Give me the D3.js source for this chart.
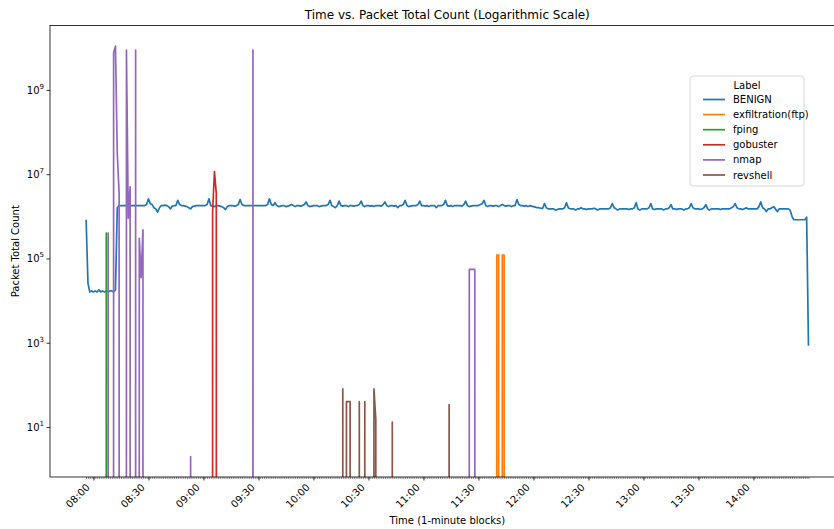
<html>
   <head>
      <title>Time vs. Packet Total Count</title>
      <script src="https://d3js.org/d3.v7.min.js" charset="utf-8"></script>
      <style>
         body {
            margin: 0;
            background: white;
            font-family: "DejaVu Sans", sans-serif;
         }
         text {
            fill: #000;
         }
      </style>
   </head>
   <body>
      <script>
         var width = 834;
         var height = 529;

         // BENIGN: one value per minute starting 07:56, in millions of packets
         var benignStart = "07:56";
         var benignM = [
            0.83, 0.026, 0.016, 0.017,
            // 08:00
            0.016, 0.017, 0.016, 0.018, 0.016, 0.017, 0.016, 0.017, 0.016, 0.017,
            0.017, 0.016, 0.018, 1.6, 1.8, 1.8, 1.8, 1.8, 1.8, 1.78,
            1.8, 1.8, 1.8, 1.8, 1.8, 1.8, 1.8, 1.8, 1.8, 1.9,
            2.6, 2.0, 1.9, 1.6, 1.5, 1.25, 1.6, 1.8, 1.8, 1.85,
            1.8, 1.7, 1.5, 1.75, 1.8, 1.8, 2.4, 1.9, 1.8, 1.8,
            1.75, 1.7, 1.6, 1.5, 1.7, 1.75, 1.8, 1.8, 1.8, 1.8,
            // 09:00
            1.8, 1.8, 1.9, 2.6, 1.8, 1.75, 1.7, 1.8, 1.8, 1.75,
            1.7, 1.6, 1.45, 1.7, 1.8, 1.8, 1.8, 1.75, 1.8, 1.9,
            2.5, 1.9, 1.8, 1.8, 1.8, 1.8, 1.8, 1.8, 1.8, 1.8,
            1.8, 1.8, 1.8, 1.8, 1.8, 1.9, 2.6, 1.9, 1.8, 2.1,
            1.8, 1.7, 1.75, 1.8, 1.8, 1.7, 1.75, 1.8, 1.9, 1.8,
            1.7, 1.8, 1.8, 1.75, 1.8, 1.9, 2.2, 1.8, 1.7, 1.75,
            // 10:00
            1.8, 1.8, 1.8, 1.7, 1.75, 1.8, 1.8, 1.8, 1.9, 2.4,
            1.8, 1.7, 1.6, 1.8, 2.3, 1.8, 1.75, 1.8, 1.8, 1.7,
            1.8, 1.8, 1.75, 1.8, 1.8, 1.9, 2.3, 1.8, 1.7, 1.8,
            1.8, 1.75, 1.8, 1.7, 1.8, 1.8, 1.8, 1.75, 1.9, 2.2,
            1.8, 1.7, 1.8, 1.8, 1.75, 1.8, 1.6, 1.8, 1.8, 1.9,
            2.4, 1.8, 1.7, 1.75, 1.8, 1.8, 1.8, 1.9, 2.3, 1.8,
            // 11:00
            1.8, 1.75, 1.8, 1.7, 1.8, 1.8, 1.8, 1.6, 1.8, 1.8,
            1.8, 1.9, 2.4, 1.8, 1.75, 1.8, 1.7, 1.8, 1.8, 1.8,
            1.8, 1.75, 1.9, 2.3, 1.8, 1.7, 1.75, 1.8, 1.8, 1.8,
            1.8, 1.9, 2.0, 2.4, 1.8, 1.7, 1.8, 1.8, 1.75, 1.8,
            1.8, 1.7, 1.8, 1.9, 1.8, 1.75, 1.8, 1.8, 1.7, 1.8,
            1.8, 2.5, 1.9, 1.8, 1.8, 1.75, 1.8, 1.7, 1.8, 1.75,
            // 12:00
            1.7, 1.65, 1.6, 1.6, 1.55, 1.55, 2.0, 1.6, 1.5, 1.5,
            1.5, 1.5, 1.4, 1.45, 1.5, 1.5, 1.5, 1.6, 2.1, 1.6,
            1.5, 1.5, 1.5, 1.4, 1.5, 1.5, 1.6, 1.5, 1.5, 1.45,
            1.5, 1.5, 1.5, 1.55, 1.5, 1.4, 1.5, 1.5, 1.5, 1.5,
            1.5, 1.5, 1.6, 2.0, 1.6, 1.5, 1.4, 1.5, 1.5, 1.5,
            1.5, 1.5, 1.45, 1.5, 1.5, 1.6, 2.1, 1.5, 1.4, 1.5,
            // 13:00
            1.5, 1.5, 1.5, 1.6, 2.0, 1.5, 1.45, 1.5, 1.5, 1.5,
            1.5, 1.4, 1.5, 1.5, 1.6, 1.9, 1.5, 1.5, 1.45, 1.5,
            1.5, 1.5, 1.4, 1.5, 1.5, 1.6, 2.0, 1.6, 1.5, 1.5,
            1.5, 1.45, 1.5, 1.6, 1.9, 1.5, 1.4, 1.5, 1.5, 1.5,
            1.5, 1.5, 1.45, 1.5, 1.5, 1.5, 1.5, 1.5, 1.6, 1.7,
            2.0, 1.6, 1.5, 1.5, 1.45, 1.5, 1.6, 1.5, 1.5, 1.5,
            // 14:00
            1.5, 1.5, 1.5, 1.7, 2.2, 1.6, 1.5, 1.3, 1.5, 1.5,
            1.6, 1.7, 1.5, 1.3, 1.5, 1.5, 1.5, 1.5, 1.5, 1.5,
            1.4, 1.0, 0.83, 0.83, 0.83, 0.83, 0.83, 0.83, 0.83, 0.95,
            0.00085
         ];

         // attack labels: minutes with traffic, every other minute is 0
         var exfilPts = [["11:40", 1.2e5], ["11:41", 1.2e5], ["11:43", 1.2e5], ["11:44", 1.2e5]];
         var fpingPts = [["08:07", 4e5]];
         var gobusterPts = [["09:05", 1.3e6], ["09:06", 1.15e7], ["09:07", 3.5e6]];
         var nmapPts = [["08:08", 4e5], ["08:11", 7.6e9], ["08:12", 1.1e10], ["08:13", 3e7], ["08:14", 3.5e6],
            ["08:18", 8.8e9], ["08:19", 9e5], ["08:20", 5e6], ["08:23", 8.8e9],
            ["08:25", 3e5], ["08:26", 3.5e4], ["08:27", 4.8e5], ["08:53", 2], ["09:27", 8.8e9],
            ["11:25", 5.5e4], ["11:26", 5.5e4], ["11:27", 5.5e4], ["11:28", 5.5e4]];
         var revshellPts = [["10:16", 80], ["10:18", 40], ["10:19", 40], ["10:20", 40], ["10:25", 40],
            ["10:28", 40], ["10:33", 80], ["10:34", 15], ["10:43", 13], ["11:14", 34]];

         var labels = ["BENIGN", "exfiltration(ftp)", "fping", "gobuster", "nmap", "revshell"];
         var colors = ["#1f77b4", "#ff7f0e", "#2ca02c", "#d62728", "#9467bd", "#8c564b"];
         var xTickLabels = ["08:00", "08:30", "09:00", "09:30", "10:00", "10:30", "11:00",
            "11:30", "12:00", "12:30", "13:00", "13:30", "14:00"];
         var yTickExps = [1, 3, 5, 7, 9];

         function toMin(s) {
            var p = s.split(":");
            return +p[0] * 60 + +p[1];
         }

         var t0 = toMin(benignStart);
         var minutes = benignM.map(function(d, i) { return t0 + i; });
         var t1 = minutes[minutes.length - 1];

         var benign = benignM.map(function(d, i) { return {t: minutes[i], v: d * 1e6}; });
         function fillSeries(pts) {
            var m = {};
            pts.forEach(function(p) { m[toMin(p[0])] = p[1]; });
            return minutes.map(function(t) { return {t: t, v: m[t] || 0}; });
         }
         var series = [benign, fillSeries(exfilPts), fillSeries(fpingPts),
            fillSeries(gobusterPts), fillSeries(nmapPts), fillSeries(revshellPts)];

         var pLeft = 50, pRight = 844.6, pTop = 25.5, pBottom = 477;

         var xPad = (t1 - t0) * 0.05;
         var x = d3.scaleLinear().domain([t0 - xPad, t1 + xPad]).range([pLeft, pRight]);

         var allPos = [];
         series.forEach(function(s) { s.forEach(function(d) { if (d.v > 0) allPos.push(d.v); }); });
         var lo = Math.log10(d3.min(allPos)), hi = Math.log10(d3.max(allPos));
         var yPad = (hi - lo) * 0.05;
         var y = d3.scaleLog().domain([Math.pow(10, lo - yPad), Math.pow(10, hi + yPad)]).range([pBottom, pTop]);

         var svg = d3.select("body")
            .append("svg")
            .attr("width", width)
            .attr("height", height);

         svg.append("clipPath").attr("id", "plot")
            .append("rect")
            .attr("x", pLeft).attr("y", pTop)
            .attr("width", pRight - pLeft).attr("height", pBottom - pTop);

         // zero counts fall off the bottom of the log axis
         var line = d3.line()
            .x(function(d) { return x(d.t); })
            .y(function(d) { return d.v > 0 ? y(d.v) : pBottom + 20000; });

         var g = svg.append("g").attr("clip-path", "url(#plot)");
         g.selectAll("path")
            .data(series)
            .enter()
            .append("path")
            .attr("fill", "none")
            .attr("stroke", function(d, i) { return colors[i]; })
            .attr("stroke-width", 1.7)
            .attr("stroke-linejoin", "round")
            .attr("d", line);

         // x ticks: one per minute, labelled every 30 minutes
         var xMajor = xTickLabels.map(toMin);
         svg.append("g")
            .attr("transform", "translate(0," + pBottom + ")")
            .call(d3.axisBottom(x).tickValues(minutes).tickSize(2).tickFormat(""))
            .call(function(a) {
               a.select(".domain").remove();
               a.selectAll("line").attr("stroke", "#444").attr("stroke-width", 0.6);
            });
         svg.append("g")
            .attr("transform", "translate(0," + pBottom + ")")
            .call(d3.axisBottom(x).tickValues(xMajor).tickSize(3.5).tickFormat(""))
            .call(function(a) {
               a.select(".domain").remove();
               a.selectAll("line").attr("stroke", "#000").attr("stroke-width", 0.8);
            });
         svg.append("g")
            .selectAll("text")
            .data(xTickLabels)
            .enter()
            .append("text")
            .attr("transform", function(d) {
               return "translate(" + (x(toMin(d)) - 3) + "," + (pBottom + 11) + ") rotate(-45)";
            })
            .attr("text-anchor", "end")
            .attr("font-size", 10)
            .text(function(d) { return d; });

         // y ticks
         svg.append("g")
            .attr("transform", "translate(" + pLeft + ",0)")
            .call(d3.axisLeft(y).tickValues(yTickExps.map(function(e) { return Math.pow(10, e); }))
               .tickSize(3.5).tickFormat(""))
            .call(function(a) {
               a.select(".domain").remove();
               a.selectAll("line").attr("stroke", "#000").attr("stroke-width", 0.8);
            });
         var yl = svg.append("g")
            .selectAll("text")
            .data(yTickExps)
            .enter()
            .append("text")
            .attr("x", pLeft - 6)
            .attr("y", function(d) { return y(Math.pow(10, d)) + 4; })
            .attr("text-anchor", "end")
            .attr("font-size", 10);
         yl.append("tspan").text("10");
         yl.append("tspan").attr("dy", -5).attr("font-size", 7).text(function(d) { return d; });

         // spines
         svg.append("rect")
            .attr("x", pLeft).attr("y", pTop)
            .attr("width", pRight - pLeft).attr("height", pBottom - pTop)
            .attr("fill", "none")
            .attr("stroke", "#000")
            .attr("stroke-width", 0.8);

         svg.append("text")
            .attr("x", (pLeft + pRight) / 2).attr("y", 19)
            .attr("text-anchor", "middle")
            .attr("font-size", 12)
            .text("Time vs. Packet Total Count (Logarithmic Scale)");
         svg.append("text")
            .attr("x", (pLeft + pRight) / 2).attr("y", 524)
            .attr("text-anchor", "middle")
            .attr("font-size", 10)
            .text("Time (1-minute blocks)");
         svg.append("text")
            .attr("transform", "translate(19," + ((pTop + pBottom) / 2) + ") rotate(-90)")
            .attr("text-anchor", "middle")
            .attr("font-size", 10)
            .text("Packet Total Count");

         // legend
         var lg = svg.append("g").attr("transform", "translate(690,76)");
         lg.append("rect")
            .attr("width", 114).attr("height", 110)
            .attr("rx", 3)
            .attr("fill", "white").attr("fill-opacity", 0.8)
            .attr("stroke", "#cccccc").attr("stroke-width", 0.8);
         lg.append("text")
            .attr("x", 57).attr("y", 13)
            .attr("text-anchor", "middle")
            .attr("font-size", 10)
            .text("Label");
         var item = lg.selectAll(".item")
            .data(labels)
            .enter()
            .append("g")
            .attr("class", "item")
            .attr("transform", function(d, i) { return "translate(0," + (23.5 + i * 15.1) + ")"; });
         item.append("line")
            .attr("x1", 13).attr("x2", 35)
            .attr("stroke", function(d, i) { return colors[i]; })
            .attr("stroke-width", 1.7);
         item.append("text")
            .attr("x", 43).attr("y", 3.5)
            .attr("font-size", 10)
            .text(function(d) { return d; });
      </script>
   </body>
</html>
